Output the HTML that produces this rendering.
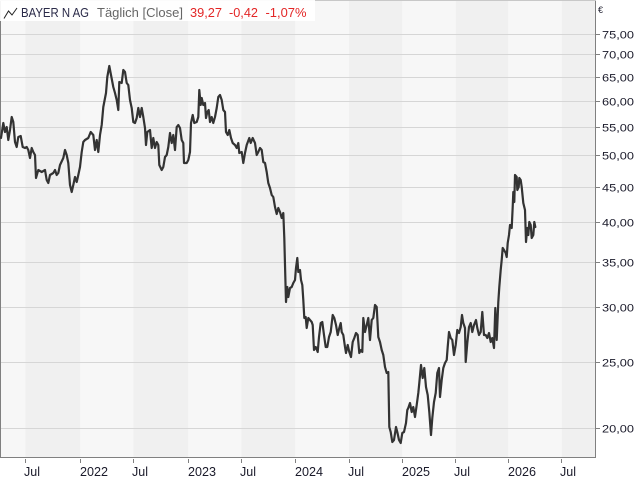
<!DOCTYPE html>
<html><head><meta charset="utf-8"><style>
html,body{margin:0;padding:0;background:#fff;}
svg{display:block;font-family:"Liberation Sans","DejaVu Sans",sans-serif;}
</style></head><body>
<svg width="640" height="480" viewBox="0 0 640 480" xmlns="http://www.w3.org/2000/svg">
<rect x="0" y="0" width="640" height="480" fill="#fff"/>
<!-- bands -->
<rect x="0" y="0" width="25.3" height="458" fill="#f7f7f7"/>
<rect x="25.3" y="0" width="55" height="458" fill="#f0f0f0"/>
<rect x="80.3" y="0" width="53" height="458" fill="#f7f7f7"/>
<rect x="133.3" y="0" width="55" height="458" fill="#f0f0f0"/>
<rect x="188.3" y="0" width="53" height="458" fill="#f7f7f7"/>
<rect x="241.3" y="0" width="54" height="458" fill="#f0f0f0"/>
<rect x="295.3" y="0" width="53.7" height="458" fill="#f7f7f7"/>
<rect x="349" y="0" width="53.3" height="458" fill="#f0f0f0"/>
<rect x="402.3" y="0" width="53.4" height="458" fill="#f7f7f7"/>
<rect x="455.7" y="0" width="52.6" height="458" fill="#f0f0f0"/>
<rect x="508.3" y="0" width="53.4" height="458" fill="#f7f7f7"/>
<rect x="561.7" y="0" width="33.8" height="458" fill="#f0f0f0"/>
<!-- gridlines -->
<g stroke="#d6d6d6" stroke-width="1">
<line x1="0" x2="595" y1="34.5" y2="34.5"/>
<line x1="0" x2="595" y1="54.5" y2="54.5"/>
<line x1="0" x2="595" y1="77.5" y2="77.5"/>
<line x1="0" x2="595" y1="101.5" y2="101.5"/>
<line x1="0" x2="595" y1="127.5" y2="127.5"/>
<line x1="0" x2="595" y1="155.5" y2="155.5"/>
<line x1="0" x2="595" y1="187.5" y2="187.5"/>
<line x1="0" x2="595" y1="222.5" y2="222.5"/>
<line x1="0" x2="595" y1="262.5" y2="262.5"/>
<line x1="0" x2="595" y1="307.5" y2="307.5"/>
<line x1="0" x2="595" y1="362.5" y2="362.5"/>
<line x1="0" x2="595" y1="428.5" y2="428.5"/>
</g>
<!-- frame -->
<g stroke="#808080" stroke-width="1" fill="none">
<line x1="0.5" y1="0" x2="0.5" y2="458"/>
<line x1="0" y1="457.5" x2="596" y2="457.5"/>
<line x1="595.5" y1="0" x2="595.5" y2="458"/>
<line x1="0" y1="0.5" x2="596" y2="0.5" stroke="#c8c8c8"/>
</g>
<!-- right ticks -->
<g stroke="#808080" stroke-width="1">
<line x1="596" x2="600" y1="34.5" y2="34.5"/>
<line x1="596" x2="600" y1="54.5" y2="54.5"/>
<line x1="596" x2="600" y1="77.5" y2="77.5"/>
<line x1="596" x2="600" y1="101.5" y2="101.5"/>
<line x1="596" x2="600" y1="127.5" y2="127.5"/>
<line x1="596" x2="600" y1="155.5" y2="155.5"/>
<line x1="596" x2="600" y1="187.5" y2="187.5"/>
<line x1="596" x2="600" y1="222.5" y2="222.5"/>
<line x1="596" x2="600" y1="262.5" y2="262.5"/>
<line x1="596" x2="600" y1="307.5" y2="307.5"/>
<line x1="596" x2="600" y1="362.5" y2="362.5"/>
<line x1="596" x2="600" y1="428.5" y2="428.5"/>
</g>
<g fill="#1a1a2a" font-size="11">
<text x="602" y="38.5" textLength="32" lengthAdjust="spacingAndGlyphs">75,00</text>
<text x="602" y="58.5" textLength="32" lengthAdjust="spacingAndGlyphs">70,00</text>
<text x="602" y="81.5" textLength="32" lengthAdjust="spacingAndGlyphs">65,00</text>
<text x="602" y="105.5" textLength="32" lengthAdjust="spacingAndGlyphs">60,00</text>
<text x="602" y="131.5" textLength="32" lengthAdjust="spacingAndGlyphs">55,00</text>
<text x="602" y="159.5" textLength="32" lengthAdjust="spacingAndGlyphs">50,00</text>
<text x="602" y="191.5" textLength="32" lengthAdjust="spacingAndGlyphs">45,00</text>
<text x="602" y="226.5" textLength="32" lengthAdjust="spacingAndGlyphs">40,00</text>
<text x="602" y="266.5" textLength="32" lengthAdjust="spacingAndGlyphs">35,00</text>
<text x="602" y="311.5" textLength="32" lengthAdjust="spacingAndGlyphs">30,00</text>
<text x="602" y="366.5" textLength="32" lengthAdjust="spacingAndGlyphs">25,00</text>
<text x="602" y="432.5" textLength="32" lengthAdjust="spacingAndGlyphs">20,00</text>
<text x="598" y="13" font-size="9">€</text>
</g>
<!-- bottom ticks -->
<g stroke="#808080" stroke-width="1">
<line x1="25.5" x2="25.5" y1="459" y2="463"/>
<line x1="80.5" x2="80.5" y1="459" y2="463"/>
<line x1="133.5" x2="133.5" y1="459" y2="463"/>
<line x1="188.5" x2="188.5" y1="459" y2="463"/>
<line x1="241.5" x2="241.5" y1="459" y2="463"/>
<line x1="295.5" x2="295.5" y1="459" y2="463"/>
<line x1="349.5" x2="349.5" y1="459" y2="463"/>
<line x1="402.5" x2="402.5" y1="459" y2="463"/>
<line x1="455.5" x2="455.5" y1="459" y2="463"/>
<line x1="508.5" x2="508.5" y1="459" y2="463"/>
<line x1="561.5" x2="561.5" y1="459" y2="463"/>
</g>
<g fill="#1a1a2a" font-size="12.5">
<text x="24" y="476">Jul</text>
<text x="80" y="476" textLength="28" lengthAdjust="spacingAndGlyphs">2022</text>
<text x="132" y="476">Jul</text>
<text x="188" y="476" textLength="28" lengthAdjust="spacingAndGlyphs">2023</text>
<text x="240" y="476">Jul</text>
<text x="295" y="476" textLength="28" lengthAdjust="spacingAndGlyphs">2024</text>
<text x="348" y="476">Jul</text>
<text x="402" y="476" textLength="28" lengthAdjust="spacingAndGlyphs">2025</text>
<text x="454" y="476">Jul</text>
<text x="508" y="476" textLength="28" lengthAdjust="spacingAndGlyphs">2026</text>
<text x="560" y="476">Jul</text>
</g>
<!-- price line -->
<polyline fill="none" stroke="#333" stroke-width="2.2" stroke-linejoin="round" stroke-linecap="round" points="
0,137 1,138 3.3,123 5,132 6.7,127 8.3,140 10,130 11.7,117 13.3,122 15,142 16.7,147 18.3,137 20.7,136 22.7,147 25,148 26.7,147 28.3,150 30,158 31.7,148 33.3,152 35,155 36,178 38.3,170 41.7,172 45,170 46.7,180 48.3,183 50,175 53.3,173 55,170 56.7,175 58.3,173 60,165 63.3,158 65,150 66.7,155 68.3,163 70,185 71.7,192 73.3,185 75,177 76.7,182 78.3,175 80,167 81.7,152 83.3,142 85,140 88.3,138 90.7,132 93.3,135 95,150 96.7,140 98.3,152 100,135 101.7,125 103.3,107 106,93 107.3,77 109.3,66 111,75 113.3,87 115,93 116.7,100 118.3,110 119.3,82 121.7,83 123.3,70 125,72 126.7,83 128.3,85 130,100 131.7,108 133.3,122 135,123 136.7,118 138.3,108 140,117 141.7,108 143.3,117 145,128 146,145 147.3,132 150,130 151.7,148 153.3,138 155,148 156.7,142 158.3,145 159.3,165 161.7,170 163.3,167 165,157 166.7,155 168.3,147 170,133 171.7,143 173.3,135 175,150 176.7,127 178.3,125 180,128 181.7,140 183.3,143 184,163 186.7,163 188.3,160 190,152 191,123 192.7,115 194.3,123 196.7,122 198.3,117 199.3,90 200.7,105 201.7,98 203.3,105 205,103 206,118 207.3,112 208.7,110 210,122 211.7,117 213.3,123 215,117 216.7,108 218.3,97 220,95 221.7,100 223.3,110 225,112 226,132 227.7,135 229.3,130 231,138 232.7,143 235,145 236.7,148 238.3,143 239.3,153 241.7,152 243.3,163 245,153 246.7,145 249.3,138 250.7,143 252.7,138 255,143 256.7,155 258.3,152 260,148 261.7,150 263.3,162 265,163 266.7,172 268.3,183 270,188 271.7,195 273.3,197 275,207 276.7,214 278.3,208 280,212 281.7,218 283.3,213 284.3,238 285,265 286,302 287.3,287 288.3,297 290,288 291.7,287 293.3,283 295,280 296,268 297.3,258 298.3,272 300,270 301,280 302.3,285 303.3,300 304.3,318 305.7,317 306.7,328 308.3,318 310,320 311.7,322 312.7,325 314,350 315.7,347 317.7,352 319,337 320.7,323 322.3,322 324,335 325.7,347 327.3,347 329,337 330.7,332 332.7,315 334.3,318 336,325 337.7,335 339.3,328 340.7,323 341.7,332 343.3,335 345,347 346,353 347.7,345 349.3,352 351,357 352.7,342 354.3,338 356,333 357.7,335 359.3,353 361,350 362.3,352 363.3,318 365,332 366.7,325 368.3,318 370,340 371.7,320 373.3,318 375,305 376.7,307 378.3,337 380,342 381.7,350 383.3,355 385,367 386.7,373 388.3,372 389.3,427 390.7,432 392.3,442 394,440 396,427 397.3,432 399,440 400.7,443 402.3,433 404,432 406,423 407.3,410 408.3,408 410,403 411.7,412 413.3,407 415,417 416.7,405 418.3,393 419.3,383 421,365 422.7,378 424.3,368 426,387 427.7,395 429.3,412 431,435 432.3,418 434,402 435.7,393 437.3,373 439,368 440,397 441.7,380 443.3,368 445,363 446.7,360 447.7,347 449,332 450.7,338 452.3,340 454,355 455.7,345 457.3,330 459,333 460.7,327 462,315 463.3,323 465,328 465.7,362 467.3,343 469,327 470.7,323 472.3,332 474,325 476,320 477.3,328 479,335 480.7,332 482.3,312 484,335 485.7,335 487.3,338 489,333 490.7,342 492.3,338 494,348 495.3,308 496.7,340 498.3,302 499.3,287 500.7,270 501.7,260 502.7,248 504,250 505.7,253 506.7,257 507.7,243 509,235 510,225 511.7,228 512.7,207 513.3,192 514.3,202 515,175 516.7,177 517.3,190 518.7,187 519.3,178 520.7,180 521.7,187 523.3,203 525,210 526,242 527.3,228 528.3,235 529.3,222 530.7,225 531.7,238 533.3,235 534.3,222 535.3,227"/>
<!-- legend -->
<rect x="0" y="0" width="315" height="21" fill="#fff" fill-opacity="0.92"/>
<polyline fill="none" stroke="#222" stroke-width="1" points="4,18.5 8.5,11 12,15 17,8"/>
<g font-size="13">
<text x="21" y="17" fill="#2a2a48" textLength="68" lengthAdjust="spacingAndGlyphs">BAYER N AG</text>
<text x="97" y="17" fill="#666" textLength="86" lengthAdjust="spacingAndGlyphs">Täglich [Close]</text>
<text x="190" y="17" fill="#e32626" textLength="32" lengthAdjust="spacingAndGlyphs">39,27</text>
<text x="229" y="17" fill="#e32626" textLength="29" lengthAdjust="spacingAndGlyphs">-0,42</text>
<text x="265.5" y="17" fill="#e32626" textLength="41" lengthAdjust="spacingAndGlyphs">-1,07%</text>
</g>
</svg>
</body></html>
